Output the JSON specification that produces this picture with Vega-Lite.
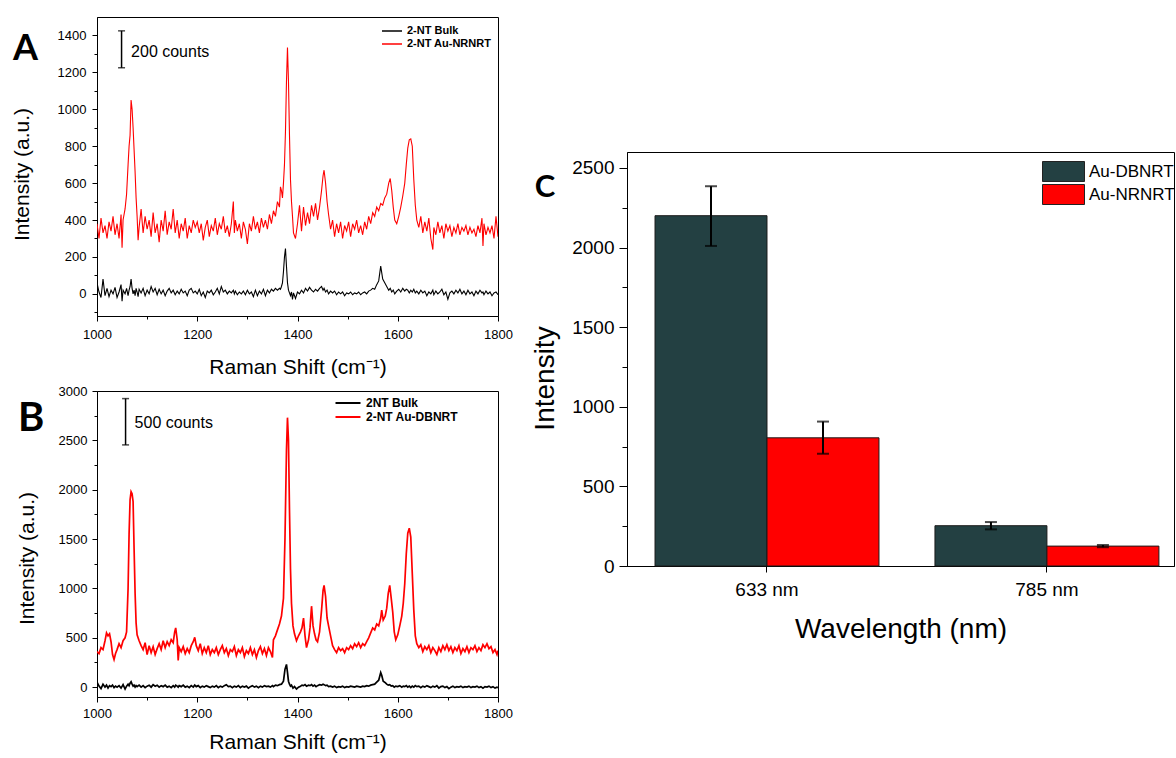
{
"$schema": "https://vega.github.io/schema/vega-lite/v6.json",
"padding": {"left": 10, "top": 16, "right": 0, "bottom": 0},
"background": "white",
"config": {
  "font": "Liberation Sans",
  "view": {"stroke": "black", "strokeWidth": 1},
  "axis": {"grid": false, "domainColor": "black", "tickColor": "black", "labelColor": "black", "titleColor": "black", "titleFontWeight": "normal", "labelFont": "Liberation Sans", "titleFont": "Liberation Sans", "labelFlush": false, "labelOverlap": false, "domainWidth": 1, "tickWidth": 1},
  "legend": {"labelFont": "Liberation Sans", "labelColor": "black"},
  "title": {"color": "black"}
},
"datasets": {
"specA": [
{"x":1000,"au":380,"bulk":60},{"x":1004,"au":300,"bulk":10},{"x":1008,"au":410,"bulk":-20},{"x":1012,"au":330,"bulk":80},{"x":1016,"au":370,"bulk":-10},{"x":1020,"au":300,"bulk":30},{"x":1024,"au":390,"bulk":-15},{"x":1028,"au":340,"bulk":20},{"x":1032,"au":420,"bulk":0},{"x":1036,"au":320,"bulk":35},{"x":1040,"au":380,"bulk":-20},{"x":1044,"au":300,"bulk":10},{"x":1048,"au":430,"bulk":50},{"x":1050,"au":250,"bulk":-40},{"x":1052,"au":400,"bulk":20},{"x":1056,"au":460,"bulk":0},{"x":1059,"au":540,"bulk":30},{"x":1062,"au":700,"bulk":-10},{"x":1064,"au":800,"bulk":20},{"x":1066,"au":860,"bulk":40},{"x":1068,"au":1050,"bulk":80},{"x":1070,"au":1000,"bulk":30},{"x":1072,"au":900,"bulk":0},{"x":1074,"au":780,"bulk":20},{"x":1076,"au":660,"bulk":-10},{"x":1078,"au":520,"bulk":30},{"x":1080,"au":420,"bulk":10},{"x":1082,"au":290,"bulk":-15},{"x":1084,"au":360,"bulk":25},{"x":1088,"au":460,"bulk":5},{"x":1092,"au":330,"bulk":30},{"x":1096,"au":420,"bulk":-10},{"x":1100,"au":350,"bulk":20},{"x":1104,"au":400,"bulk":0},{"x":1108,"au":310,"bulk":40},{"x":1112,"au":440,"bulk":10},{"x":1116,"au":330,"bulk":30},{"x":1120,"au":380,"bulk":-5},{"x":1124,"au":280,"bulk":25},{"x":1128,"au":400,"bulk":0},{"x":1132,"au":340,"bulk":20},{"x":1136,"au":450,"bulk":-10},{"x":1140,"au":320,"bulk":15},{"x":1144,"au":390,"bulk":30},{"x":1148,"au":350,"bulk":5},{"x":1152,"au":460,"bulk":20},{"x":1156,"au":330,"bulk":-5},{"x":1160,"au":400,"bulk":15},{"x":1164,"au":300,"bulk":0},{"x":1168,"au":380,"bulk":25},{"x":1172,"au":340,"bulk":5},{"x":1176,"au":410,"bulk":15},{"x":1180,"au":300,"bulk":-10},{"x":1184,"au":370,"bulk":20},{"x":1188,"au":330,"bulk":30},{"x":1192,"au":400,"bulk":5},{"x":1196,"au":360,"bulk":15},{"x":1200,"au":390,"bulk":0},{"x":1204,"au":330,"bulk":25},{"x":1208,"au":380,"bulk":-10},{"x":1212,"au":290,"bulk":10},{"x":1216,"au":360,"bulk":-20},{"x":1220,"au":400,"bulk":15},{"x":1224,"au":310,"bulk":5},{"x":1228,"au":370,"bulk":20},{"x":1232,"au":340,"bulk":-5},{"x":1236,"au":410,"bulk":10},{"x":1240,"au":320,"bulk":30},{"x":1244,"au":380,"bulk":0},{"x":1248,"au":350,"bulk":40},{"x":1252,"au":420,"bulk":10},{"x":1256,"au":330,"bulk":20},{"x":1260,"au":370,"bulk":0},{"x":1264,"au":310,"bulk":15},{"x":1268,"au":380,"bulk":5},{"x":1272,"au":500,"bulk":20},{"x":1274,"au":330,"bulk":0},{"x":1276,"au":400,"bulk":15},{"x":1280,"au":340,"bulk":-5},{"x":1284,"au":380,"bulk":10},{"x":1288,"au":300,"bulk":0},{"x":1292,"au":390,"bulk":15},{"x":1296,"au":350,"bulk":-5},{"x":1300,"au":270,"bulk":20},{"x":1304,"au":380,"bulk":0},{"x":1308,"au":340,"bulk":10},{"x":1312,"au":420,"bulk":-15},{"x":1316,"au":350,"bulk":20},{"x":1320,"au":390,"bulk":-10},{"x":1324,"au":330,"bulk":15},{"x":1328,"au":410,"bulk":0},{"x":1332,"au":360,"bulk":25},{"x":1336,"au":400,"bulk":-10},{"x":1340,"au":350,"bulk":20},{"x":1344,"au":430,"bulk":5},{"x":1348,"au":380,"bulk":25},{"x":1352,"au":450,"bulk":15},{"x":1356,"au":420,"bulk":30},{"x":1360,"au":500,"bulk":20},{"x":1364,"au":470,"bulk":30},{"x":1366,"au":580,"bulk":25},{"x":1368,"au":560,"bulk":40},{"x":1370,"au":520,"bulk":60},{"x":1372,"au":600,"bulk":120},{"x":1374,"au":700,"bulk":200},{"x":1376,"au":880,"bulk":245},{"x":1378,"au":1150,"bulk":150},{"x":1380,"au":1335,"bulk":60},{"x":1382,"au":1150,"bulk":20},{"x":1384,"au":860,"bulk":5},{"x":1386,"au":620,"bulk":-10},{"x":1388,"au":500,"bulk":10},{"x":1390,"au":420,"bulk":-30},{"x":1392,"au":330,"bulk":5},{"x":1396,"au":300,"bulk":-25},{"x":1400,"au":380,"bulk":10},{"x":1404,"au":480,"bulk":0},{"x":1408,"au":340,"bulk":20},{"x":1412,"au":470,"bulk":5},{"x":1416,"au":370,"bulk":30},{"x":1420,"au":440,"bulk":15},{"x":1424,"au":380,"bulk":35},{"x":1428,"au":480,"bulk":20},{"x":1432,"au":420,"bulk":10},{"x":1436,"au":490,"bulk":25},{"x":1440,"au":400,"bulk":15},{"x":1444,"au":470,"bulk":30},{"x":1448,"au":560,"bulk":40},{"x":1451,"au":640,"bulk":20},{"x":1453,"au":670,"bulk":30},{"x":1456,"au":600,"bulk":10},{"x":1459,"au":500,"bulk":20},{"x":1462,"au":430,"bulk":0},{"x":1466,"au":350,"bulk":15},{"x":1470,"au":400,"bulk":5},{"x":1474,"au":310,"bulk":15},{"x":1478,"au":380,"bulk":-5},{"x":1482,"au":330,"bulk":10},{"x":1486,"au":390,"bulk":0},{"x":1490,"au":300,"bulk":10},{"x":1494,"au":370,"bulk":-10},{"x":1498,"au":340,"bulk":5},{"x":1502,"au":390,"bulk":0},{"x":1506,"au":310,"bulk":10},{"x":1510,"au":380,"bulk":-5},{"x":1514,"au":350,"bulk":5},{"x":1518,"au":400,"bulk":0},{"x":1522,"au":330,"bulk":10},{"x":1526,"au":370,"bulk":-5},{"x":1530,"au":320,"bulk":5},{"x":1534,"au":390,"bulk":10},{"x":1538,"au":350,"bulk":0},{"x":1542,"au":420,"bulk":15},{"x":1546,"au":380,"bulk":20},{"x":1550,"au":440,"bulk":30},{"x":1554,"au":420,"bulk":25},{"x":1558,"au":470,"bulk":50},{"x":1562,"au":450,"bulk":70},{"x":1566,"au":490,"bulk":150},{"x":1570,"au":480,"bulk":80},{"x":1574,"au":520,"bulk":60},{"x":1578,"au":540,"bulk":40},{"x":1582,"au":600,"bulk":20},{"x":1585,"au":625,"bulk":30},{"x":1588,"au":560,"bulk":10},{"x":1591,"au":470,"bulk":20},{"x":1594,"au":400,"bulk":0},{"x":1598,"au":380,"bulk":15},{"x":1602,"au":420,"bulk":25},{"x":1606,"au":470,"bulk":10},{"x":1610,"au":530,"bulk":30},{"x":1614,"au":600,"bulk":15},{"x":1617,"au":700,"bulk":25},{"x":1620,"au":790,"bulk":20},{"x":1623,"au":835,"bulk":5},{"x":1626,"au":840,"bulk":20},{"x":1629,"au":800,"bulk":10},{"x":1632,"au":620,"bulk":25},{"x":1635,"au":480,"bulk":5},{"x":1638,"au":400,"bulk":15},{"x":1642,"au":360,"bulk":0},{"x":1646,"au":420,"bulk":20},{"x":1650,"au":330,"bulk":5},{"x":1654,"au":390,"bulk":15},{"x":1658,"au":340,"bulk":-10},{"x":1662,"au":410,"bulk":10},{"x":1666,"au":300,"bulk":0},{"x":1670,"au":240,"bulk":20},{"x":1672,"au":360,"bulk":-5},{"x":1676,"au":320,"bulk":15},{"x":1680,"au":390,"bulk":0},{"x":1684,"au":330,"bulk":10},{"x":1688,"au":370,"bulk":25},{"x":1692,"au":300,"bulk":-5},{"x":1696,"au":380,"bulk":10},{"x":1700,"au":340,"bulk":-30},{"x":1704,"au":370,"bulk":5},{"x":1708,"au":310,"bulk":15},{"x":1712,"au":360,"bulk":0},{"x":1716,"au":330,"bulk":20},{"x":1720,"au":380,"bulk":5},{"x":1724,"au":320,"bulk":25},{"x":1728,"au":360,"bulk":0},{"x":1732,"au":340,"bulk":15},{"x":1736,"au":370,"bulk":-5},{"x":1740,"au":320,"bulk":20},{"x":1744,"au":360,"bulk":0},{"x":1748,"au":330,"bulk":10},{"x":1752,"au":350,"bulk":-10},{"x":1756,"au":310,"bulk":15},{"x":1760,"au":370,"bulk":0},{"x":1764,"au":330,"bulk":20},{"x":1768,"au":410,"bulk":5},{"x":1770,"au":260,"bulk":10},{"x":1772,"au":380,"bulk":-5},{"x":1776,"au":320,"bulk":15},{"x":1780,"au":360,"bulk":0},{"x":1784,"au":330,"bulk":10},{"x":1788,"au":370,"bulk":-10},{"x":1792,"au":300,"bulk":5},{"x":1796,"au":420,"bulk":10},{"x":1800,"au":310,"bulk":-5}
],
"specB": [
{"x":1000,"au":360,"bulk":50},{"x":1004,"au":340,"bulk":10},{"x":1008,"au":400,"bulk":-15},{"x":1012,"au":380,"bulk":30},{"x":1016,"au":470,"bulk":0},{"x":1019,"au":550,"bulk":20},{"x":1022,"au":520,"bulk":-10},{"x":1025,"au":540,"bulk":15},{"x":1028,"au":460,"bulk":5},{"x":1031,"au":330,"bulk":20},{"x":1034,"au":280,"bulk":-5},{"x":1037,"au":340,"bulk":10},{"x":1040,"au":380,"bulk":0},{"x":1044,"au":440,"bulk":15},{"x":1048,"au":400,"bulk":-10},{"x":1052,"au":470,"bulk":25},{"x":1056,"au":500,"bulk":-20},{"x":1059,"au":560,"bulk":10},{"x":1062,"au":1000,"bulk":30},{"x":1064,"au":1550,"bulk":15},{"x":1066,"au":1900,"bulk":40},{"x":1068,"au":1980,"bulk":55},{"x":1070,"au":1960,"bulk":30},{"x":1072,"au":1880,"bulk":10},{"x":1074,"au":1400,"bulk":20},{"x":1076,"au":950,"bulk":0},{"x":1078,"au":650,"bulk":15},{"x":1080,"au":530,"bulk":5},{"x":1084,"au":470,"bulk":20},{"x":1088,"au":420,"bulk":0},{"x":1092,"au":380,"bulk":15},{"x":1096,"au":450,"bulk":-5},{"x":1100,"au":330,"bulk":10},{"x":1104,"au":420,"bulk":20},{"x":1108,"au":350,"bulk":0},{"x":1112,"au":410,"bulk":25},{"x":1116,"au":330,"bulk":10},{"x":1120,"au":390,"bulk":20},{"x":1124,"au":440,"bulk":0},{"x":1128,"au":380,"bulk":15},{"x":1132,"au":470,"bulk":5},{"x":1136,"au":400,"bulk":20},{"x":1140,"au":460,"bulk":0},{"x":1144,"au":420,"bulk":10},{"x":1148,"au":480,"bulk":-5},{"x":1152,"au":450,"bulk":15},{"x":1155,"au":560,"bulk":0},{"x":1157,"au":600,"bulk":20},{"x":1160,"au":480,"bulk":10},{"x":1162,"au":270,"bulk":0},{"x":1164,"au":400,"bulk":15},{"x":1168,"au":360,"bulk":5},{"x":1172,"au":410,"bulk":20},{"x":1176,"au":340,"bulk":0},{"x":1180,"au":390,"bulk":10},{"x":1184,"au":350,"bulk":-5},{"x":1188,"au":420,"bulk":15},{"x":1192,"au":460,"bulk":0},{"x":1195,"au":505,"bulk":20},{"x":1198,"au":420,"bulk":5},{"x":1202,"au":370,"bulk":15},{"x":1206,"au":440,"bulk":-5},{"x":1210,"au":340,"bulk":10},{"x":1214,"au":400,"bulk":0},{"x":1218,"au":350,"bulk":15},{"x":1222,"au":420,"bulk":5},{"x":1226,"au":330,"bulk":-5},{"x":1230,"au":380,"bulk":10},{"x":1234,"au":350,"bulk":0},{"x":1238,"au":400,"bulk":15},{"x":1242,"au":330,"bulk":-5},{"x":1246,"au":380,"bulk":10},{"x":1250,"au":420,"bulk":0},{"x":1254,"au":350,"bulk":15},{"x":1258,"au":390,"bulk":25},{"x":1262,"au":320,"bulk":5},{"x":1266,"au":380,"bulk":10},{"x":1270,"au":360,"bulk":-5},{"x":1274,"au":410,"bulk":10},{"x":1278,"au":320,"bulk":0},{"x":1282,"au":380,"bulk":15},{"x":1286,"au":350,"bulk":-5},{"x":1290,"au":400,"bulk":10},{"x":1294,"au":310,"bulk":0},{"x":1298,"au":370,"bulk":10},{"x":1302,"au":340,"bulk":-10},{"x":1306,"au":400,"bulk":5},{"x":1310,"au":330,"bulk":15},{"x":1314,"au":380,"bulk":0},{"x":1318,"au":300,"bulk":10},{"x":1322,"au":370,"bulk":-5},{"x":1326,"au":410,"bulk":10},{"x":1330,"au":340,"bulk":0},{"x":1334,"au":390,"bulk":15},{"x":1338,"au":320,"bulk":5},{"x":1342,"au":400,"bulk":10},{"x":1346,"au":360,"bulk":0},{"x":1350,"au":300,"bulk":15},{"x":1352,"au":480,"bulk":5},{"x":1356,"au":520,"bulk":20},{"x":1360,"au":580,"bulk":15},{"x":1364,"au":640,"bulk":25},{"x":1368,"au":720,"bulk":30},{"x":1372,"au":900,"bulk":60},{"x":1375,"au":1500,"bulk":180},{"x":1378,"au":2400,"bulk":230},{"x":1380,"au":2730,"bulk":150},{"x":1382,"au":2500,"bulk":60},{"x":1384,"au":1800,"bulk":30},{"x":1386,"au":1200,"bulk":10},{"x":1388,"au":850,"bulk":20},{"x":1391,"au":620,"bulk":-10},{"x":1394,"au":540,"bulk":5},{"x":1398,"au":470,"bulk":-20},{"x":1402,"au":520,"bulk":0},{"x":1406,"au":560,"bulk":10},{"x":1409,"au":600,"bulk":20},{"x":1412,"au":700,"bulk":15},{"x":1415,"au":520,"bulk":25},{"x":1418,"au":400,"bulk":10},{"x":1422,"au":480,"bulk":20},{"x":1425,"au":600,"bulk":15},{"x":1428,"au":820,"bulk":25},{"x":1431,"au":620,"bulk":10},{"x":1434,"au":540,"bulk":20},{"x":1437,"au":480,"bulk":5},{"x":1440,"au":460,"bulk":15},{"x":1444,"au":560,"bulk":25},{"x":1448,"au":780,"bulk":20},{"x":1451,"au":980,"bulk":30},{"x":1453,"au":1030,"bulk":25},{"x":1456,"au":920,"bulk":15},{"x":1459,"au":700,"bulk":20},{"x":1462,"au":620,"bulk":5},{"x":1466,"au":520,"bulk":10},{"x":1470,"au":420,"bulk":0},{"x":1474,"au":380,"bulk":10},{"x":1478,"au":350,"bulk":-5},{"x":1482,"au":400,"bulk":5},{"x":1486,"au":370,"bulk":0},{"x":1490,"au":390,"bulk":10},{"x":1494,"au":350,"bulk":-5},{"x":1498,"au":400,"bulk":5},{"x":1502,"au":380,"bulk":0},{"x":1506,"au":420,"bulk":10},{"x":1510,"au":390,"bulk":5},{"x":1514,"au":440,"bulk":0},{"x":1518,"au":410,"bulk":10},{"x":1522,"au":450,"bulk":5},{"x":1526,"au":400,"bulk":0},{"x":1530,"au":440,"bulk":10},{"x":1534,"au":420,"bulk":5},{"x":1538,"au":460,"bulk":15},{"x":1542,"au":500,"bulk":10},{"x":1546,"au":550,"bulk":20},{"x":1550,"au":600,"bulk":25},{"x":1554,"au":580,"bulk":30},{"x":1558,"au":640,"bulk":50},{"x":1562,"au":620,"bulk":70},{"x":1566,"au":700,"bulk":148},{"x":1568,"au":780,"bulk":120},{"x":1571,"au":680,"bulk":60},{"x":1575,"au":720,"bulk":45},{"x":1578,"au":800,"bulk":30},{"x":1581,"au":950,"bulk":20},{"x":1584,"au":1030,"bulk":25},{"x":1587,"au":900,"bulk":10},{"x":1590,"au":760,"bulk":15},{"x":1593,"au":560,"bulk":0},{"x":1596,"au":480,"bulk":10},{"x":1600,"au":530,"bulk":5},{"x":1604,"au":620,"bulk":15},{"x":1608,"au":720,"bulk":0},{"x":1611,"au":850,"bulk":10},{"x":1614,"au":1050,"bulk":5},{"x":1617,"au":1350,"bulk":15},{"x":1620,"au":1560,"bulk":0},{"x":1623,"au":1610,"bulk":10},{"x":1626,"au":1520,"bulk":-5},{"x":1629,"au":1150,"bulk":10},{"x":1632,"au":780,"bulk":0},{"x":1635,"au":520,"bulk":15},{"x":1638,"au":440,"bulk":5},{"x":1642,"au":400,"bulk":10},{"x":1646,"au":430,"bulk":-5},{"x":1650,"au":360,"bulk":10},{"x":1654,"au":410,"bulk":0},{"x":1658,"au":380,"bulk":15},{"x":1662,"au":420,"bulk":5},{"x":1666,"au":350,"bulk":-5},{"x":1670,"au":400,"bulk":10},{"x":1674,"au":370,"bulk":0},{"x":1678,"au":330,"bulk":15},{"x":1682,"au":400,"bulk":-10},{"x":1686,"au":360,"bulk":5},{"x":1690,"au":420,"bulk":10},{"x":1694,"au":380,"bulk":-5},{"x":1698,"au":430,"bulk":5},{"x":1702,"au":370,"bulk":-15},{"x":1706,"au":410,"bulk":0},{"x":1710,"au":350,"bulk":10},{"x":1714,"au":400,"bulk":-5},{"x":1718,"au":370,"bulk":5},{"x":1722,"au":420,"bulk":0},{"x":1726,"au":340,"bulk":10},{"x":1730,"au":390,"bulk":-5},{"x":1734,"au":360,"bulk":5},{"x":1738,"au":410,"bulk":0},{"x":1742,"au":350,"bulk":10},{"x":1746,"au":400,"bulk":-5},{"x":1750,"au":380,"bulk":5},{"x":1754,"au":420,"bulk":0},{"x":1758,"au":360,"bulk":10},{"x":1762,"au":400,"bulk":-5},{"x":1766,"au":370,"bulk":5},{"x":1770,"au":430,"bulk":-10},{"x":1774,"au":400,"bulk":5},{"x":1778,"au":440,"bulk":0},{"x":1782,"au":390,"bulk":10},{"x":1786,"au":410,"bulk":-5},{"x":1790,"au":350,"bulk":5},{"x":1794,"au":380,"bulk":-10},{"x":1798,"au":330,"bulk":0},{"x":1800,"au":370,"bulk":-5}
],
"barA": [{"x":1049,"lo":1225,"hi":1425,"tx":1068,"ty":1313,"label":"200 counts"}],
"barB": [{"x":1057,"lo":2454,"hi":2923,"tx":1075,"ty":2673,"label":"500 counts"}],
"bars": [
{"wavelength":"633 nm","sample":"Au-DBNRT","intensity":2200,"lo":2010,"hi":2385},
{"wavelength":"633 nm","sample":"Au-NRNRT","intensity":805,"lo":705,"hi":907},
{"wavelength":"785 nm","sample":"Au-DBNRT","intensity":253,"lo":230,"hi":276},
{"wavelength":"785 nm","sample":"Au-NRNRT","intensity":125,"lo":118,"hi":132}
]
},
"spacing": 18,
"resolve": {"scale": {"color": "independent"}, "legend": {"color": "independent"}},
"hconcat": [
{
"concat": [
{
"width": 401, "height": 299,
"title": {"text": "A", "anchor": "start", "frame": "bounds", "offset": -79, "baseline": "alphabetic", "fontSize": 36, "fontWeight": "bold", "font": "Lato", "dx": 2, "color": "black"},
"layer": [
{"data": {"name": "specA"}, "transform": [{"fold": ["bulk", "au"], "as": ["series", "v"]}],
"mark": {"type": "line", "strokeWidth": 1.1, "clip": true},
"encoding": {
"x": {"field": "x", "type": "quantitative", "scale": {"domain": [1000, 1800], "nice": false, "zero": false},
"axis": {"title": "Raman Shift (cm⁻¹)", "format": "d", "tickCount": 50, "values": [1000,1100,1200,1300,1400,1500,1600,1700,1800], "labelExpr": "datum.value % 200 === 0 ? datum.label : ''", "labelOverlap": false, "tickSize": {"condition": {"test": "datum.value % 200 === 0", "value": 5}, "value": 3}, "labelFontSize": 13, "labelPadding": 7, "titleFontSize": 21, "titlePadding": 15}},
"y": {"field": "v", "type": "quantitative", "scale": {"domain": [-120, 1500], "nice": false, "zero": false},
"axis": {"title": "Intensity (a.u.)", "titleY": 157, "format": "d", "tickCount": 50, "values": [-100,0,100,200,300,400,500,600,700,800,900,1000,1100,1200,1300,1400], "labelExpr": "datum.value % 200 === 0 ? datum.label : ''", "labelOverlap": false, "tickSize": {"condition": {"test": "datum.value % 200 === 0", "value": 5}, "value": 3}, "labelFontSize": 13, "labelPadding": 6, "titleFontSize": 21, "titlePadding": 25}},
"color": {"field": "series", "type": "nominal", "scale": {"domain": ["bulk", "au"], "range": ["#000000", "#ff0000"]},
"legend": {"title": null, "orient": "none", "legendX": 289, "legendY": 8, "symbolType": "M-2,0H2", "symbolSize": 100, "symbolStrokeWidth": 1.5, "labelFontSize": 11, "labelFontWeight": "bold", "labelOffset": 9, "rowPadding": 2, "padding": 0, "labelExpr": "datum.value == 'bulk' ? '2-NT Bulk' : '2-NT Au-NRNRT'"}}
}},
{"data": {"name": "barA"}, "mark": {"type": "rule", "strokeWidth": 1.5, "color": "black"},
"encoding": {"x": {"field": "x", "type": "quantitative", "title": "Raman Shift (cm⁻¹)"}, "y": {"field": "lo", "type": "quantitative", "title": "Intensity (a.u.)"}, "y2": {"field": "hi"}}},
{"data": {"name": "barA"}, "mark": {"type": "tick", "orient": "horizontal", "size": 7, "thickness": 1.5, "color": "black"},
"encoding": {"x": {"field": "x", "type": "quantitative", "title": "Raman Shift (cm⁻¹)"}, "y": {"field": "lo", "type": "quantitative", "title": "Intensity (a.u.)"}}},
{"data": {"name": "barA"}, "mark": {"type": "tick", "orient": "horizontal", "size": 7, "thickness": 1.5, "color": "black"},
"encoding": {"x": {"field": "x", "type": "quantitative", "title": "Raman Shift (cm⁻¹)"}, "y": {"field": "hi", "type": "quantitative", "title": "Intensity (a.u.)"}}},
{"data": {"name": "barA"}, "mark": {"type": "text", "align": "left", "baseline": "middle", "fontSize": 16, "color": "black"},
"encoding": {"x": {"field": "tx", "type": "quantitative", "title": "Raman Shift (cm⁻¹)"}, "y": {"field": "ty", "type": "quantitative", "title": "Intensity (a.u.)"}, "text": {"field": "label"}}}
]
},
{
"width": 401, "height": 306,
"title": {"text": "B", "anchor": "start", "frame": "bounds", "offset": -86, "baseline": "alphabetic", "fontSize": 40, "fontWeight": "bold", "font": "Lato", "dx": 2, "color": "black"},
"layer": [
{"data": {"name": "specB"}, "transform": [{"fold": ["bulk", "au"], "as": ["series", "v"]}],
"mark": {"type": "line", "strokeWidth": 1.7, "clip": true},
"encoding": {
"x": {"field": "x", "type": "quantitative", "scale": {"domain": [1000, 1800], "nice": false, "zero": false},
"axis": {"title": "Raman Shift (cm⁻¹)", "format": "d", "tickCount": 50, "values": [1000,1100,1200,1300,1400,1500,1600,1700,1800], "labelExpr": "datum.value % 200 === 0 ? datum.label : ''", "labelOverlap": false, "tickSize": {"condition": {"test": "datum.value % 200 === 0", "value": 5}, "value": 3}, "labelFontSize": 13, "labelPadding": 5, "titleFontSize": 21, "titlePadding": 11}},
"y": {"field": "v", "type": "quantitative", "scale": {"domain": [-100, 3000], "nice": false, "zero": false},
"axis": {"title": "Intensity (a.u.)", "titleY": 167, "format": "d", "tickCount": 50, "values": [0,250,500,750,1000,1250,1500,1750,2000,2250,2500,2750,3000], "labelExpr": "datum.value % 500 === 0 ? datum.label : ''", "labelOverlap": false, "tickSize": {"condition": {"test": "datum.value % 500 === 0", "value": 5}, "value": 3}, "labelFontSize": 13, "labelPadding": 5, "titleFontSize": 21, "titlePadding": 21}},
"color": {"field": "series", "type": "nominal", "scale": {"domain": ["bulk", "au"], "range": ["#000000", "#ff0000"]},
"legend": {"title": null, "orient": "none", "legendX": 245, "legendY": 6, "symbolType": "M-2.5,0H2.5", "symbolSize": 100, "symbolStrokeWidth": 2, "labelFontSize": 12, "labelFontWeight": "bold", "labelOffset": 12, "rowPadding": 2, "padding": 0, "labelExpr": "datum.value == 'bulk' ? '2NT Bulk' : '2-NT Au-DBNRT'"}}
}},
{"data": {"name": "barB"}, "mark": {"type": "rule", "strokeWidth": 1.5, "color": "black"},
"encoding": {"x": {"field": "x", "type": "quantitative", "title": "Raman Shift (cm⁻¹)"}, "y": {"field": "lo", "type": "quantitative", "title": "Intensity (a.u.)"}, "y2": {"field": "hi"}}},
{"data": {"name": "barB"}, "mark": {"type": "tick", "orient": "horizontal", "size": 7, "thickness": 1.5, "color": "black"},
"encoding": {"x": {"field": "x", "type": "quantitative", "title": "Raman Shift (cm⁻¹)"}, "y": {"field": "lo", "type": "quantitative", "title": "Intensity (a.u.)"}}},
{"data": {"name": "barB"}, "mark": {"type": "tick", "orient": "horizontal", "size": 7, "thickness": 1.5, "color": "black"},
"encoding": {"x": {"field": "x", "type": "quantitative", "title": "Raman Shift (cm⁻¹)"}, "y": {"field": "hi", "type": "quantitative", "title": "Intensity (a.u.)"}}},
{"data": {"name": "barB"}, "mark": {"type": "text", "align": "left", "baseline": "middle", "fontSize": 16, "color": "black"},
"encoding": {"x": {"field": "tx", "type": "quantitative", "title": "Raman Shift (cm⁻¹)"}, "y": {"field": "ty", "type": "quantitative", "title": "Intensity (a.u.)"}, "text": {"field": "label"}}}
]
}
],
"columns": 1,
"align": "none",
"spacing": 6,
"resolve": {"scale": {"color": "independent"}, "legend": {"color": "independent"}}
},
{
"vconcat": [
{"width": 1, "height": 134, "data": {"values": []}, "mark": "point", "view": {"stroke": null}},
{
"width": 547, "height": 414,
"title": {"text": "C", "anchor": "start", "frame": "bounds", "offset": -76, "baseline": "alphabetic", "fontSize": 31, "fontWeight": "bold", "font": "Lato", "dx": 3, "color": "black"},
"data": {"name": "bars"},
"encoding": {
"x": {"field": "wavelength", "type": "nominal", "scale": {"paddingInner": 0.2, "paddingOuter": 0.077, "align": 0.65},
"axis": {"title": "Wavelength (nm)", "labelAngle": 0, "labelFontSize": 19, "titleFontSize": 28, "tickSize": 6, "labelPadding": 8, "titlePadding": 16}},
"xOffset": {"field": "sample", "type": "nominal", "scale": {"paddingInner": 0, "paddingOuter": 0}}
},
"layer": [
{"mark": {"type": "bar", "stroke": "#1a1a1a", "strokeWidth": 1},
"encoding": {
"y": {"field": "intensity", "type": "quantitative", "scale": {"domain": [0, 2600], "nice": false},
"axis": {"title": "Intensity", "titleY": 226, "format": "d", "tickCount": 50, "values": [0,250,500,750,1000,1250,1500,1750,2000,2250,2500], "labelExpr": "datum.value % 500 === 0 ? datum.label : ''", "labelOverlap": false, "tickSize": {"condition": {"test": "datum.value % 500 === 0", "value": 8}, "value": 5}, "labelFontSize": 19, "labelPadding": 5, "titleFontSize": 28, "titlePadding": 12}},
"color": {"field": "sample", "type": "nominal", "scale": {"domain": ["Au-DBNRT", "Au-NRNRT"], "range": ["#234042", "#ff0000"]},
"legend": {"title": null, "orient": "none", "legendX": 426, "legendY": 9, "symbolType": "M-2.1,-1H2.1V1H-2.1Z", "symbolSize": 400, "symbolStrokeColor": "#222222", "symbolStrokeWidth": 1, "symbolOpacity": 1, "labelFontSize": 17, "labelOffset": 15, "rowPadding": -3, "padding": 0}}
}},
{"mark": {"type": "rule", "strokeWidth": 2, "color": "black"},
"encoding": {"y": {"field": "lo", "type": "quantitative", "title": "Intensity"}, "y2": {"field": "hi"}}},
{"mark": {"type": "tick", "orient": "horizontal", "size": 12, "thickness": 2, "color": "black"},
"encoding": {"y": {"field": "lo", "type": "quantitative", "title": "Intensity"}}},
{"mark": {"type": "tick", "orient": "horizontal", "size": 12, "thickness": 2, "color": "black"},
"encoding": {"y": {"field": "hi", "type": "quantitative", "title": "Intensity"}}}
]
}
],
"spacing": 0,
"resolve": {"scale": {"color": "independent"}, "legend": {"color": "independent"}}
}
]
}
